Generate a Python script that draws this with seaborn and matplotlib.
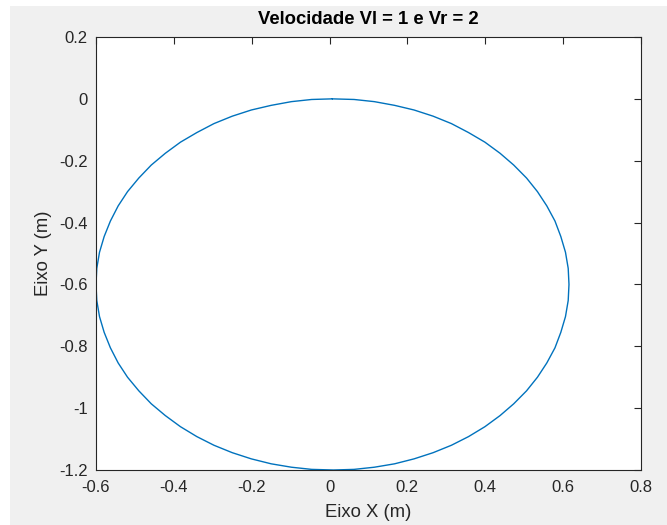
import matplotlib
matplotlib.use("Agg")
import matplotlib.pyplot as plt
import matplotlib.patches as mpatches
import matplotlib.ticker as mticker
import seaborn as sns

# Robot trajectory (circle, Vl = 1, Vr = 2), every ~5 degrees
pos_x = [0.007, -0.046, -0.098, -0.150, -0.201, -0.250, -0.297, -0.341, -0.383,
         -0.422, -0.458, -0.490, -0.519, -0.543, -0.563, -0.579, -0.591, -0.598,
         -0.600, -0.598, -0.591, -0.579, -0.563, -0.543, -0.519, -0.490, -0.458,
         -0.422, -0.383, -0.341, -0.297, -0.250, -0.201, -0.150, -0.098, -0.046,
         0.010,
         0.063, 0.115, 0.167, 0.217, 0.266, 0.313, 0.357, 0.399, 0.438,
         0.473, 0.506, 0.534, 0.558, 0.579, 0.594, 0.606, 0.613, 0.615,
         0.613, 0.606, 0.594, 0.579, 0.558, 0.534, 0.506, 0.473, 0.438,
         0.399, 0.357, 0.313, 0.266, 0.217, 0.167, 0.115, 0.063, 0.007]
pos_y = [0.000, -0.002, -0.009, -0.021, -0.036, -0.056, -0.080, -0.109, -0.140,
         -0.176, -0.214, -0.256, -0.300, -0.346, -0.395, -0.445, -0.496, -0.548,
         -0.600, -0.652, -0.704, -0.755, -0.805, -0.854, -0.900, -0.944, -0.986,
         -1.024, -1.060, -1.092, -1.120, -1.144, -1.164, -1.180, -1.191, -1.198,
         -1.200,
         -1.198, -1.191, -1.180, -1.164, -1.144, -1.120, -1.092, -1.060, -1.024,
         -0.986, -0.944, -0.900, -0.854, -0.805, -0.755, -0.704, -0.652, -0.600,
         -0.548, -0.496, -0.445, -0.395, -0.346, -0.300, -0.256, -0.214, -0.176,
         -0.140, -0.109, -0.080, -0.056, -0.036, -0.021, -0.009, -0.002, 0.000]

x_ticks = [-0.6, -0.4, -0.2, 0, 0.2, 0.4, 0.6, 0.8]
y_ticks = [0.2, 0, -0.2, -0.4, -0.6, -0.8, -1, -1.2]

sns.set_style("white")
plt.rcParams["font.family"] = ["Liberation Sans", "DejaVu Sans"]
plt.rcParams["axes.unicode_minus"] = False

fig = plt.figure(figsize=(6.67, 5.25), dpi=100, facecolor="white")
# MATLAB figure window grey, slightly inset from the screenshot edges
fig.patches.append(mpatches.Rectangle((10 / 667, 0), 1 - 10 / 667, 1 - 6 / 525,
                                      transform=fig.transFigure, facecolor="#f0f0f0",
                                      edgecolor="none", zorder=-10))

ax = fig.add_axes([96 / 667, 55 / 525, 545 / 667, 433 / 525])
ax.set_facecolor("white")

sns.lineplot(x=pos_x, y=pos_y, sort=False, estimator=None, color="#0072BD",
             linewidth=1.0, ax=ax)

ax.set_xlim(-0.6, 0.8)
ax.set_ylim(-1.2, 0.2)
ax.set_xticks(x_ticks)
ax.set_yticks(y_ticks)
fmt = mticker.FuncFormatter(lambda v, p: "0" if abs(v) < 1e-9 else f"{round(v, 2):g}")
ax.xaxis.set_major_formatter(fmt)
ax.yaxis.set_major_formatter(fmt)

edge = "#262626"
for s in ax.spines.values():
    s.set_visible(True)
    s.set_color(edge)
    s.set_linewidth(0.8)
ax.tick_params(direction="in", length=5, width=0.8, colors=edge, labelsize=12,
               top=True, right=True)
ax.tick_params(axis="x", pad=7)
ax.tick_params(axis="y", pad=6)

ax.set_title("Velocidade Vl = 1 e Vr = 2", fontsize=13.3, fontweight="bold", color="black", pad=9)
ax.set_xlabel("Eixo X (m)", fontsize=13.3, color=edge, labelpad=7)
ax.set_ylabel("Eixo Y (m)", fontsize=13.3, color=edge, labelpad=5)

fig.savefig("out.png", dpi=100, facecolor=fig.get_facecolor())
